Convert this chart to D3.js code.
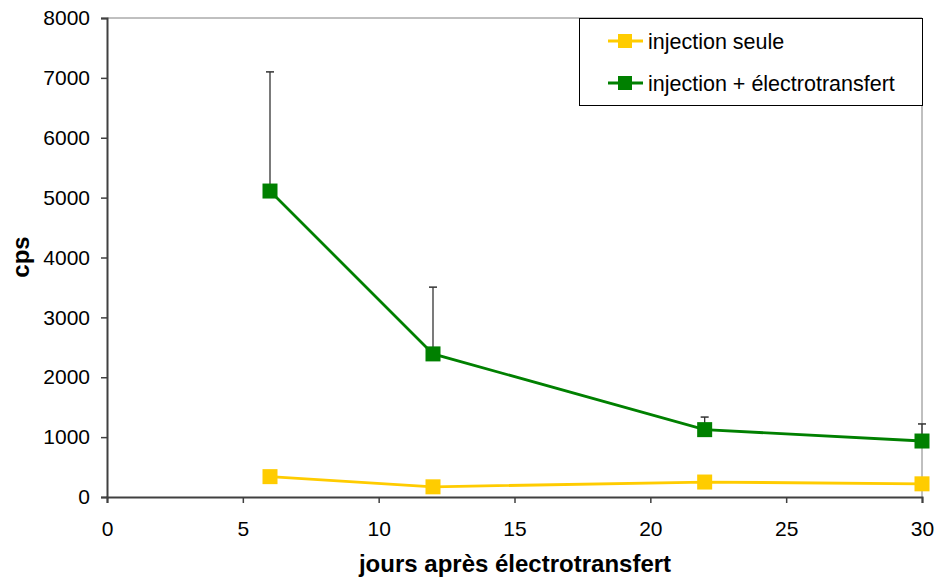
<!DOCTYPE html>
<html>
<head>
<meta charset="utf-8">
<script src="https://cdn.jsdelivr.net/npm/d3@7"></script>
<style>
  body { margin: 0; background: #fff; }
  text { font-family: "Liberation Sans", Arial, sans-serif; }
</style>
</head>
<body>
<div id="chart"></div>
<script>
// data
var days = [6, 12, 22, 30]
var injectionSeule = [340, 170, 250, 220]
var injectionElectro = [5110, 2390, 1125, 935]
var electroErrUp = [7100, 3505, 1335, 1220]
var xTicks = [0, 5, 10, 15, 20, 25, 30]
var yTicks = [0, 1000, 2000, 3000, 4000, 5000, 6000, 7000, 8000]
var seriesNames = ["injection seule", "injection + électrotransfert"]
var seriesColors = ["#ffcc00", "#008000"]

var W = 936, H = 580
var margin = { top: 18, left: 107, right: 14, bottom: 83 }

var svg = d3.select("#chart").append("svg")
    .attr("width", W).attr("height", H)

var x = d3.scaleLinear().domain([0, 30]).range([margin.left, W - margin.right])
var y = d3.scaleLinear().domain([0, 8000]).range([H - margin.bottom, margin.top])

// plot area border (top + right)
svg.append("path")
    .attr("d", `M${x(0)},${y(8000)}H${x(30)}V${y(0)}`)
    .attr("fill", "none").attr("stroke", "#808080").attr("stroke-width", 1)

// axes
var xAxis = svg.append("g")
    .attr("transform", `translate(0,${y(0)})`)
    .call(d3.axisBottom(x).tickValues(xTicks).tickSize(6).tickPadding(18))
var yAxis = svg.append("g")
    .attr("transform", `translate(${x(0)},0)`)
    .call(d3.axisLeft(y).tickValues(yTicks).tickSize(6).tickPadding(11).tickFormat(d3.format("d")))

;[xAxis, yAxis].forEach(a => {
    a.select(".domain").attr("stroke", "#404040").attr("stroke-width", 2)
    a.selectAll(".tick line").attr("stroke", "#404040").attr("stroke-width", 1.5)
    a.selectAll(".tick text").attr("font-size", 21).attr("fill", "#000")
        .attr("font-family", "Liberation Sans, Arial, sans-serif")
})

// axis titles
svg.append("text")
    .attr("x", 515).attr("y", 572)
    .attr("text-anchor", "middle")
    .attr("font-size", 24).attr("font-weight", "bold")
    .text("jours après électrotransfert")
svg.append("text")
    .attr("transform", "translate(29,257) rotate(-90)")
    .attr("text-anchor", "middle")
    .attr("font-size", 24).attr("font-weight", "bold")
    .text("cps")

// error bars (upper only)
var errG = svg.append("g")
days.forEach((d, i) => {
    errG.append("line")
        .attr("x1", x(d)).attr("x2", x(d))
        .attr("y1", y(injectionElectro[i])).attr("y2", y(electroErrUp[i]))
        .attr("stroke", "#333").attr("stroke-width", 1.3)
    errG.append("line")
        .attr("x1", x(d) - 4).attr("x2", x(d) + 4)
        .attr("y1", y(electroErrUp[i])).attr("y2", y(electroErrUp[i]))
        .attr("stroke", "#333").attr("stroke-width", 1.5)
})

var line = d3.line().x(d => x(d[0])).y(d => y(d[1]))
var series = [injectionSeule, injectionElectro]

series.forEach((vals, s) => {
    var pts = days.map((d, i) => [d, vals[i]])
    svg.append("path")
        .datum(pts)
        .attr("d", line)
        .attr("fill", "none")
        .attr("stroke", seriesColors[s])
        .attr("stroke-width", 2.8)
    svg.append("g").selectAll("rect")
        .data(pts)
        .enter()
        .append("rect")
        .attr("x", d => x(d[0]) - 7.5).attr("y", d => y(d[1]) - 7.5)
        .attr("width", 15).attr("height", 15)
        .attr("fill", seriesColors[s])
})

// legend
var lg = svg.append("g")
lg.append("rect")
    .attr("x", 579.5).attr("y", 18.5).attr("width", 343).attr("height", 87)
    .attr("fill", "#fff").attr("stroke", "#000").attr("stroke-width", 1)
seriesNames.forEach((name, i) => {
    var ly = 41 + i * 42
    lg.append("line")
        .attr("x1", 608).attr("x2", 643).attr("y1", ly).attr("y2", ly)
        .attr("stroke", seriesColors[i]).attr("stroke-width", 3)
    lg.append("rect")
        .attr("x", 618).attr("y", ly - 7).attr("width", 14).attr("height", 14)
        .attr("fill", seriesColors[i])
    lg.append("text")
        .attr("x", 648).attr("y", ly + 8)
        .attr("font-size", 21.5)
        .text(name)
})
</script>
</body>
</html>
